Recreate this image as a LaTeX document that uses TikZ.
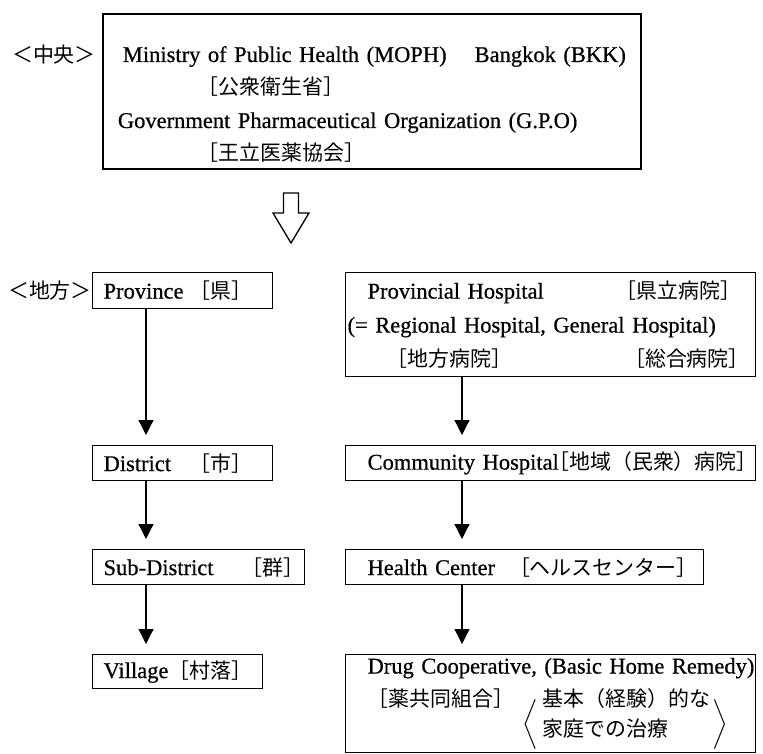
\documentclass[tikz,border=0pt]{standalone}
\usepackage{amsmath}
\usepackage{fontspec}
\setmainfont{Liberation Serif}[FakeBold=0.6]
\newfontfamily\jpfont{Noto Sans CJK JP}[Scale=0.93]
\newfontfamily\jppfont{Noto Sans CJK JP}[Scale=0.93,RawFeature=+palt]
\newcommand{\ja}[1]{{\jpfont #1}}
\newcommand{\jap}[1]{{\jppfont #1}}
\usetikzlibrary{arrows.meta,positioning}

\begin{document}
\begin{tikzpicture}[
  x=1pt, y=-1pt,
  box/.style={rectangle, draw, line width=1.2pt, anchor=north west, align=left,
              inner ysep=0pt, font=\fontsize{22.5}{33}\selectfont},
  tag/.style={inner sep=0pt, font=\jpfont\fontsize{22.5}{27}\selectfont},
  flow/.style={-{Triangle[width=15pt,length=15pt]}, line width=1.2pt, shorten >=10pt},
]
  \useasboundingbox (0,0) rectangle (763,754);

  % Central level
  \node[box, line width=1.8pt, minimum width=538pt, minimum height=155pt,
        inner xsep=15pt, text width=508pt] (moph) at (102,13)
    {\rule{0pt}{42pt}\hspace*{5pt}Ministry of Public Health (MOPH)\hfill Bangkok (BKK)\\
     \hspace*{80pt}\ja{［公衆衛生省］}\\
     \mbox{Government Pharmaceutical Organization (G.P.O)}\\
     \hspace*{80pt}\ja{［王立医薬協会］}};
  \node[tag, anchor=east] (central) at (96,55) {＜中央＞};

  % Block arrow down to the provinces
  \coordinate (drop) at (291,193);
  \draw[line width=1.3pt, line join=miter] (drop) ++(-7.5,0) -- ++(0,20) -- ++(-10.5,0)
    -- ++(18,30) -- ++(18,-30) -- ++(-10.5,0) -- ++(0,-20) -- cycle;

  % Local level, administration
  \node[box, minimum width=180pt, minimum height=36pt, inner xsep=11pt, text width=158pt]
    (province) at (92,272) {\mbox{\makebox[86pt][l]{Province}\ja{［県］}}};
  \node[tag, left=0pt of province] (local) {＜地方＞};
  \node[box, minimum width=180pt, minimum height=35pt, inner xsep=11pt, text width=158pt]
    (district) at (92,445) {\mbox{\makebox[86pt][l]{District}\ja{［市］}}};
  \node[box, minimum width=212pt, minimum height=35pt, inner xsep=11pt, text width=190pt]
    (subdist) at (92,549) {\mbox{\makebox[138pt][l]{Sub-District}\ja{［群］}}};
  \node[box, minimum width=170pt, minimum height=34pt, inner xsep=11pt, text width=148pt]
    (village) at (92,654) {\mbox{Village\ja{［村落］}}};

  % Local level, hospitals
  \node[box, minimum width=410pt, minimum height=104pt, inner xsep=2pt, text width=406pt,
        font=\fontsize{22.5}{34}\selectfont] (provhosp) at (345,272)
    {\mbox{\hspace*{20pt}Provincial Hospital\hspace{72pt}\ja{［県立病院］}}\\
     \mbox{(= Regional Hospital, General Hospital)}\\
     \mbox{\hspace*{39pt}\ja{［地方病院］}\hspace{112pt}\ja{［総合病院］}}};
  \node[box, minimum width=410pt, minimum height=35pt, inner xsep=22pt, text width=366pt]
    (commhosp) at (345,445) {\mbox{Community Hospital\jap{［}\ja{地域（民衆）病院］}}};
  \node[box, minimum width=358pt, minimum height=35pt, inner xsep=22pt, text width=314pt]
    (healthctr) at (345,549) {\mbox{Health Center\hspace{14pt}\ja{［ヘルスセンター］}}};
  \node[box, minimum width=410pt, minimum height=98pt, inner xsep=22pt, text width=366pt,
        font=\fontsize{22.5}{30}\selectfont] (drugcoop) at (345,654)
    {\mbox{Drug Cooperative, (Basic Home Remedy)}\\[6pt]
     \mbox{\begin{tabular}{@{}l@{}}\ja{［薬共同組合］}\\ \mbox{}\end{tabular}\hspace{8pt}%
       \raisebox{-9pt}{$\biggl\langle$}\hspace{5pt}%
       \begin{tabular}{@{}l@{}}\ja{基本（経験）的な}\\ \ja{家庭での治療}\end{tabular}\hspace{2pt}%
       \raisebox{-9pt}{$\biggr\rangle$}}};

  % Connections
  \coordinate (lcol) at (146,0);
  \coordinate (rcol) at (462,0);
  \draw[flow] (province.south -| lcol) -- (district.north -| lcol);
  \draw[flow] (district.south -| lcol) -- (subdist.north -| lcol);
  \draw[flow] (subdist.south -| lcol) -- (village.north -| lcol);
  \draw[flow] (provhosp.south -| rcol) -- (commhosp.north -| rcol);
  \draw[flow] (commhosp.south -| rcol) -- (healthctr.north -| rcol);
  \draw[flow] (healthctr.south -| rcol) -- (drugcoop.north -| rcol);

\end{tikzpicture}
\end{document}
